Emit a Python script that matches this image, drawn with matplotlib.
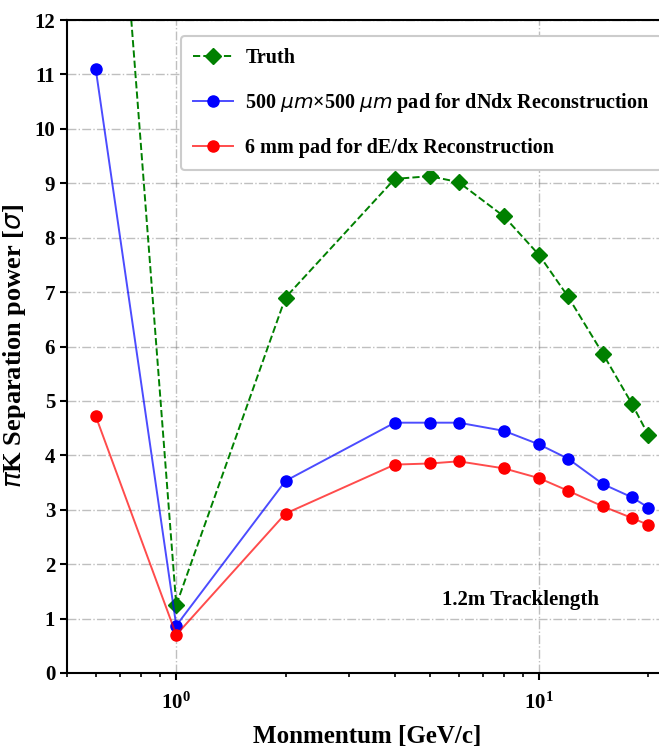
import matplotlib
matplotlib.use("Agg")
import matplotlib.pyplot as plt

plt.rcParams['font.family'] = ['Liberation Serif', 'DejaVu Serif']
plt.rcParams['font.weight'] = 'bold'
plt.rcParams['mathtext.fontset'] = 'custom'
plt.rcParams['mathtext.rm'] = 'Liberation Serif:bold'
plt.rcParams['mathtext.it'] = 'DejaVu Sans:italic:normal'
plt.rcParams['mathtext.bf'] = 'Liberation Serif:bold'

# momentum points [GeV/c]
momentum = [0.6, 1, 2, 4, 5, 6, 8, 10, 12, 15, 18, 20]

# separation power [sigma]
truth = [20.5, 1.25, 6.9, 9.08, 9.13, 9.02, 8.39, 7.68, 6.92, 5.86, 4.95, 4.37]
dndx = [11.1, 0.87, 3.53, 4.6, 4.6, 4.6, 4.45, 4.2, 3.94, 3.47, 3.23, 3.04]
dedx = [4.72, 0.7, 2.93, 3.83, 3.85, 3.89, 3.76, 3.58, 3.35, 3.06, 2.85, 2.72]

fig = plt.figure(figsize=(6.59, 7.47), dpi=100)
ax = fig.add_axes([67/659, 74/747, 600/659, 653/747])

ax.plot(momentum, truth, '--', color='green', marker='D', markersize=8,
        linewidth=1.4, label='Truth')
ax.plot(momentum, dndx, '-', color=(0, 0, 1, 0.7), marker='o', markersize=8,
        linewidth=1.4, markerfacecolor='blue', markeredgecolor='blue',
        label=r'500 $\mu m$×500 $\mu m$ pad for dNdx Reconstruction')
ax.plot(momentum, dedx, '-', color=(1, 0, 0, 0.7), marker='o', markersize=8,
        linewidth=1.4, markerfacecolor='red', markeredgecolor='red',
        label='6 mm pad for dE/dx Reconstruction')

ax.set_xscale('log')
ax.set_xlim(0.5, 22.5)
ax.set_ylim(0, 12)
ax.set_yticks(range(0, 13))
ax.grid(True, which='major', linestyle='-.', color='gray', alpha=0.5, linewidth=1)

ax.tick_params(axis='both', which='major', labelsize=15, width=1.5, length=5)
ax.tick_params(axis='x', which='major', pad=9)
ax.tick_params(axis='x', which='minor', width=1.2, length=3)
for s in ax.spines.values():
    s.set_linewidth(1.5)

ax.set_xlabel('Monmentum [GeV/c]', fontsize=18, fontweight='bold', labelpad=8)
ax.set_ylabel(r'$\pi$K Separation power [$\sigma$]', fontsize=19, fontweight='bold')
ax.yaxis.set_label_coords(-0.065, 0.5)

ax.text(8.9, 1.35, '1.2m Tracklength', fontsize=15, fontweight='bold',
        ha='center', va='center')

leg = ax.legend(loc='upper left', bbox_to_anchor=(0.18, 0.985), fontsize=14.5,
                frameon=True, framealpha=1, edgecolor='#cccccc', handlelength=2.0,
                handletextpad=0.6, borderpad=0.6, labelspacing=1.15,
                borderaxespad=0.3)
leg.get_frame().set_linewidth(1.5)

fig.savefig('out.png', dpi=100)
